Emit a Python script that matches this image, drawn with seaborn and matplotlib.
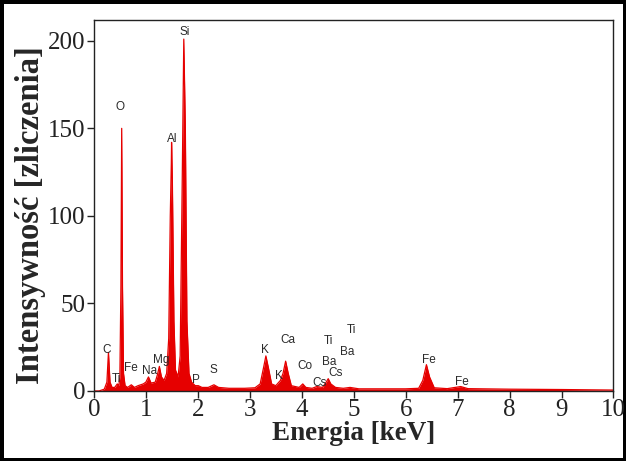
import matplotlib
matplotlib.use("Agg")
import matplotlib.pyplot as plt
import seaborn as sns
import pandas as pd

# Spectrum (energy in keV, counts)
energy = [0.00, 0.10, 0.15, 0.20, 0.25, 0.28, 0.31, 0.35, 0.40, 0.45, 0.48, 0.50,
          0.52, 0.535, 0.55, 0.57, 0.60, 0.65, 0.72, 0.78, 0.85, 0.95, 1.00, 1.05,
          1.10, 1.18, 1.22, 1.26, 1.30, 1.35, 1.40, 1.44, 1.47, 1.49, 1.495, 1.51,
          1.54, 1.57, 1.62, 1.66, 1.70, 1.73, 1.76, 1.79, 1.83, 1.88, 1.95, 2.01,
          2.08, 2.20, 2.31, 2.40, 2.60, 2.90, 3.10, 3.20, 3.27, 3.31, 3.36, 3.42,
          3.50, 3.59, 3.64, 3.69, 3.74, 3.80, 3.95, 4.02, 4.08, 4.20, 4.29, 4.40,
          4.47, 4.51, 4.56, 4.65, 4.80, 4.93, 5.10, 5.50, 6.00, 6.25, 6.33, 6.40,
          6.46, 6.55, 6.80, 7.06, 7.20, 8.00, 9.00, 10.00]
counts = [0.0, 0.0, 0.5, 1.0, 5.0, 22.0, 5.0, 2.0, 2.0, 4.0, 3.0, 8.0,
          60.0, 150.0, 60.0, 10.0, 3.0, 2.0, 3.5, 2.0, 3.0, 4.0, 5.0, 8.0,
          4.5, 5.0, 9.0, 14.0, 8.0, 6.0, 10.0, 30.0, 100.0, 130.0, 142.0, 120.0,
          40.0, 12.0, 8.0, 20.0, 120.0, 201.0, 150.0, 40.0, 10.0, 5.0, 3.0, 3.0,
          2.0, 2.0, 3.5, 2.0, 1.5, 1.5, 1.8, 4.0, 14.0, 20.0, 13.0, 4.0,
          3.0, 6.0, 10.0, 17.0, 10.0, 3.0, 2.0, 4.0, 2.0, 1.5, 2.5, 2.0,
          5.0, 7.0, 4.0, 2.0, 1.5, 2.0, 1.2, 1.2, 1.2, 1.5, 6.0, 15.0,
          8.0, 1.8, 1.3, 2.5, 1.3, 1.0, 0.8, 0.5]

# Peak labels
peak_labels = ["Si", "O", "Al", "C", "Ti", "Fe", "Na", "Mg", "P", "S", "K", "K",
               "Ca", "Co", "Cs", "Ba", "Cs", "Ti", "Ba", "Ti", "Fe", "Fe"]
peak_x = [1.74, 0.50, 1.51, 0.25, 0.44, 0.72, 1.07, 1.30, 1.97, 2.30, 3.30, 3.57,
          3.74, 4.07, 4.34, 4.52, 4.66, 4.52, 4.88, 4.95, 6.45, 7.09]
peak_y = [205, 162, 144, 23.5, 7.0, 13.2, 11.2, 17.7, 6.5, 11.8, 23.4, 8.7,
          29.3, 14.4, 4.8, 16.3, 10.3, 28.7, 22.5, 34.7, 17.7, 4.9]

x_ticks = list(range(0, 11))
y_ticks = [0, 50, 100, 150, 200]

sns.set_theme(style="ticks")
plt.rcParams["font.family"] = ["Liberation Serif", "DejaVu Serif"]

fig = plt.figure(figsize=(6.26, 4.61), dpi=100)
fig.patch.set_facecolor("white")
fig.patch.set_edgecolor("black")
fig.patch.set_linewidth(5)
ax = fig.add_axes([0.150, 0.152, 0.830, 0.805])

df = pd.DataFrame({"Energia": energy, "Zliczenia": counts})
ax.fill_between(df["Energia"], df["Zliczenia"], 0, color="#e60000", linewidth=0)
sns.lineplot(data=df, x="Energia", y="Zliczenia", ax=ax, color="#e60000", linewidth=0.9)

for t, x, y in zip(peak_labels, peak_x, peak_y):
    ax.text(x, y, t, ha="center", va="center", fontsize=8.5, color="#2a2a2a",
            family=["Liberation Sans", "DejaVu Sans"])

ax.set_xlim(0, 10)
ax.set_ylim(0, 212)
ax.set_xticks(x_ticks)
ax.set_yticks(y_ticks)
ax.tick_params(axis="both", direction="out", length=5, width=1, labelsize=18,
               colors="#222222", pad=1, top=False, right=False)
for s in ax.spines.values():
    s.set_visible(True)
    s.set_color("#222222")
    s.set_linewidth(1.0)

ax.set_xlabel("Energia [keV]", fontsize=19.5, fontweight="bold", labelpad=0)
ax.set_ylabel("Intensywność [zliczenia]", fontsize=23.5, fontweight="bold", labelpad=0)
ax.yaxis.set_label_coords(-0.092, 0.474)
ax.set_facecolor("white")

fig.savefig("out.png", dpi=100, facecolor=fig.get_facecolor(), edgecolor=fig.get_edgecolor())
